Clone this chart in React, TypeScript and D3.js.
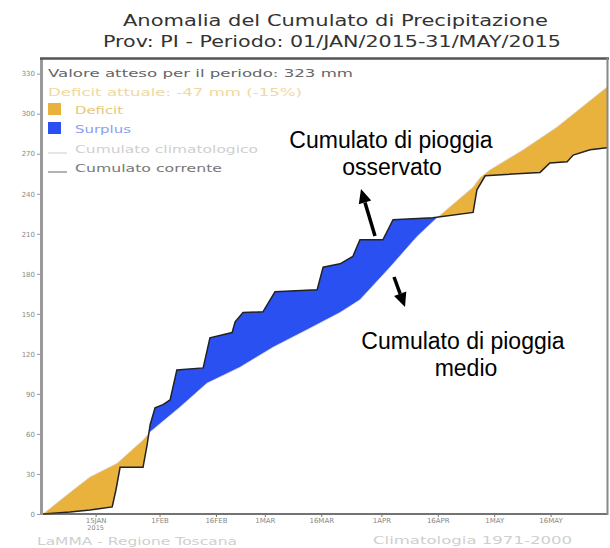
import * as d3 from "d3";
import { useEffect, useRef } from "react";

// giorni dal 1 gennaio 2015 e cumulato osservato (mm)
const obsDays = [0, 7.2, 12.5, 18.4, 19.4, 20.5, 26.6, 27.7, 28.5, 29.8, 31.9, 33.8, 35.6, 42.6, 44.4, 50.3, 51.1, 53.2, 58.5, 61.7, 72.9, 74.5, 79, 82.4, 84.3, 90.4, 93.1, 103.7, 114.4, 115.4, 117.6, 132.2, 134.8, 139.4, 141, 145.5, 150];
const obsMm = [0, 1.5, 3, 5.3, 18, 35, 35, 52, 67, 79.5, 82, 85.5, 108, 109.5, 132, 136, 144, 151, 151.5, 166.5, 168, 185, 187.5, 193, 205.5, 205.5, 220.5, 222, 226, 243, 253.5, 256, 263, 264, 269, 273, 274.5];

// cumulato climatologico 1971-2000 (mm)
const climDays = [0, 8, 12.5, 19.7, 26.6, 28.5, 36.4, 43.6, 52.4, 61.2, 70.2, 79, 84.3, 92.3, 99.5, 104.8, 114.4, 116.2, 118.9, 127.7, 136.7, 150];
const climMm = [0, 18, 27.8, 38, 55.5, 61.5, 80, 98, 110, 125, 138, 151, 160.5, 185, 208, 222, 245, 252, 258, 273, 290, 320];

const yTicks = [0, 30, 60, 90, 120, 150, 180, 210, 240, 270, 300, 330];
const xTickDays = [14, 31, 46, 59, 74, 90, 105, 120, 135];
const xTickLabels = ["15JAN", "1FEB", "16FEB", "1MAR", "16MAR", "1APR", "16APR", "1MAY", "16MAY"];

const DEFICIT = "#e9b23d";
const SURPLUS = "#2b50f2";

function arrow(g, x1, y1, x2, y2) {
    const a = Math.atan2(y2 - y1, x2 - x1);
    const len = 14;
    const w = 6.5;
    const bx = x2 - len * Math.cos(a);
    const by = y2 - len * Math.sin(a);
    g.append("line")
        .attr("x1", x1).attr("y1", y1)
        .attr("x2", bx).attr("y2", by)
        .attr("stroke", "#000")
        .attr("stroke-width", 3.5);
    g.append("path")
        .attr("d", `M${x2},${y2}L${bx - w * Math.sin(a)},${by + w * Math.cos(a)}L${bx + w * Math.sin(a)},${by - w * Math.cos(a)}Z`)
        .attr("fill", "#000");
}

export default function App() {
    const ref = useRef(null);

    useEffect(() => {
        const svg = d3.select(ref.current);
        svg.selectAll("*").remove();

        const x = d3.scaleLinear().domain([0, 150]).range([43, 607]);
        const y = d3.scaleLinear().domain([0, 341]).range([514, 59]);

        const obs = obsDays.map((d, i) => [d, obsMm[i]]);
        const clim = climDays.map((d, i) => [d, climMm[i]]);

        const line = d3.line().x((d) => x(d[0])).y((d) => y(d[1]));
        const above = d3.area().x((d) => x(d[0])).y0(y(341)).y1((d) => y(d[1]));
        const below = d3.area().x((d) => x(d[0])).y0(y(0)).y1((d) => y(d[1]));

        const defs = svg.append("defs");
        defs.append("clipPath").attr("id", "above-obs").append("path").attr("d", above(obs));
        defs.append("clipPath").attr("id", "above-clim").append("path").attr("d", above(clim));

        // deficit: sotto la climatologia e sopra l'osservato
        svg.append("path")
            .attr("d", below(clim))
            .attr("fill", DEFICIT)
            .attr("clip-path", "url(#above-obs)");
        // surplus: sotto l'osservato e sopra la climatologia
        svg.append("path")
            .attr("d", below(obs))
            .attr("fill", SURPLUS)
            .attr("clip-path", "url(#above-clim)");

        svg.append("path")
            .attr("d", line(clim))
            .attr("fill", "none")
            .attr("stroke", "#d8d8d8")
            .attr("stroke-width", 0.8);
        svg.append("path")
            .attr("d", line(obs))
            .attr("fill", "none")
            .attr("stroke", "#222")
            .attr("stroke-width", 1.5);

        // cornice
        svg.append("line").attr("x1", 43).attr("x2", 607).attr("y1", 514).attr("y2", 514)
            .attr("stroke", "#444").attr("stroke-width", 1.5);
        svg.append("line").attr("x1", 41.5).attr("x2", 41.5).attr("y1", 58).attr("y2", 515)
            .attr("stroke", "#9a9a9a").attr("stroke-width", 3);
        svg.append("line").attr("x1", 40).attr("x2", 609).attr("y1", 58.5).attr("y2", 58.5)
            .attr("stroke", "#555").attr("stroke-width", 2.5);
        svg.append("line").attr("x1", 607.5).attr("x2", 607.5).attr("y1", 58).attr("y2", 515)
            .attr("stroke", "#888").attr("stroke-width", 2);

        // asse y
        const yAxis = svg.append("g").attr("transform", "translate(40,0)")
            .call(d3.axisLeft(y).tickValues(yTicks).tickSize(3).tickFormat(d3.format("d")));
        yAxis.select(".domain").remove();
        yAxis.selectAll("line").attr("stroke", "#999");
        yAxis.selectAll("text").attr("fill", "#888").style("font-size", "7px")
            .style("font-family", "DejaVu Sans").attr("x", -5);

        // asse x
        const xAxis = svg.append("g").attr("transform", "translate(0,514)")
            .call(d3.axisBottom(x).tickValues(xTickDays).tickSize(3)
                .tickFormat((d, i) => xTickLabels[i]));
        xAxis.select(".domain").remove();
        xAxis.selectAll("line").attr("stroke", "#777");
        xAxis.selectAll("text").attr("fill", "#888").style("font-size", "7px")
            .style("font-family", "DejaVu Sans").attr("y", 4);
        svg.append("text")
            .attr("x", x(xTickDays[0])).attr("y", 530)
            .attr("text-anchor", "middle")
            .attr("fill", "#888").style("font-size", "6.5px").style("font-family", "DejaVu Sans")
            .text("2015");

        // titolo
        const title = svg.append("g").style("font-family", "DejaVu Sans").attr("fill", "#333");
        title.append("text").attr("x", 123).attr("y", 26)
            .attr("textLength", 425).attr("lengthAdjust", "spacingAndGlyphs")
            .style("font-size", "15px")
            .text("Anomalia del Cumulato di Precipitazione");
        title.append("text").attr("x", 103).attr("y", 47)
            .attr("textLength", 458).attr("lengthAdjust", "spacingAndGlyphs")
            .style("font-size", "15px")
            .text("Prov: PI - Periodo: 01/JAN/2015-31/MAY/2015");

        // legenda
        const leg = svg.append("g").style("font-family", "DejaVu Sans").style("font-size", "10px");
        leg.append("text").attr("x", 48).attr("y", 77).attr("fill", "#666")
            .attr("textLength", 305).attr("lengthAdjust", "spacingAndGlyphs")
            .text("Valore atteso per il periodo: 323 mm");
        leg.append("text").attr("x", 48).attr("y", 96).attr("fill", "#f1d8a0")
            .attr("textLength", 254).attr("lengthAdjust", "spacingAndGlyphs")
            .text("Deficit attuale: -47 mm (-15%)");
        leg.append("rect").attr("x", 48).attr("y", 103).attr("width", 13).attr("height", 12).attr("fill", DEFICIT);
        leg.append("text").attr("x", 75).attr("y", 114).attr("fill", "#e6c87c")
            .attr("textLength", 48).attr("lengthAdjust", "spacingAndGlyphs").text("Deficit");
        leg.append("rect").attr("x", 48).attr("y", 122).attr("width", 13).attr("height", 12).attr("fill", SURPLUS);
        leg.append("text").attr("x", 75).attr("y", 133).attr("fill", "#8e9ef0")
            .attr("textLength", 56).attr("lengthAdjust", "spacingAndGlyphs").text("Surplus");
        leg.append("line").attr("x1", 48).attr("x2", 67).attr("y1", 153).attr("y2", 153)
            .attr("stroke", "#ccc").attr("stroke-width", 1);
        leg.append("text").attr("x", 75).attr("y", 153).attr("fill", "#cfcfcf")
            .attr("textLength", 183).attr("lengthAdjust", "spacingAndGlyphs").text("Cumulato climatologico");
        leg.append("line").attr("x1", 48).attr("x2", 67).attr("y1", 172).attr("y2", 172)
            .attr("stroke", "#666").attr("stroke-width", 1);
        leg.append("text").attr("x", 75).attr("y", 172).attr("fill", "#777")
            .attr("textLength", 147).attr("lengthAdjust", "spacingAndGlyphs").text("Cumulato corrente");

        // piè di pagina
        const foot = svg.append("g").style("font-family", "DejaVu Sans").style("font-size", "11px").attr("fill", "#cfcfcf");
        foot.append("text").attr("x", 37).attr("y", 545)
            .attr("textLength", 200).attr("lengthAdjust", "spacingAndGlyphs").text("LaMMA - Regione Toscana");
        foot.append("text").attr("x", 373).attr("y", 544)
            .attr("textLength", 199).attr("lengthAdjust", "spacingAndGlyphs").text("Climatologia 1971-2000");

        // annotazioni
        const ann = svg.append("g").style("font-family", "Liberation Sans, Arial, sans-serif")
            .style("font-size", "23px").attr("fill", "#000").attr("text-anchor", "middle");
        ann.append("text").attr("x", 391).attr("y", 148).text("Cumulato di pioggia");
        ann.append("text").attr("x", 392).attr("y", 175).text("osservato");
        ann.append("text").attr("x", 463).attr("y", 349).text("Cumulato di pioggia");
        ann.append("text").attr("x", 466).attr("y", 376).text("medio");
        const arr = svg.append("g");
        arrow(arr, 375, 236, 361, 189);
        arrow(arr, 394, 277, 405, 307);
    }, []);

    return <svg ref={ref} width={610} height={548} style={{ position: "absolute", left: 0, top: 0, background: "#fff" }} />;
}
